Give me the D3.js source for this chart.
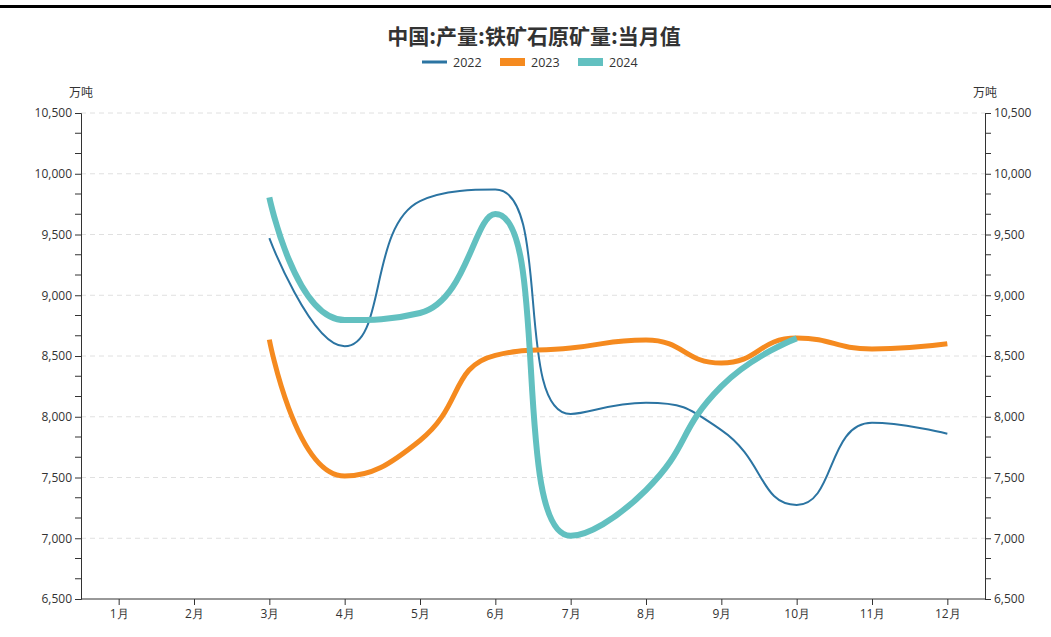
<!DOCTYPE html>
<html>
<head>
<meta charset="utf-8">
<script src="https://cdn.jsdelivr.net/npm/d3@7"></script>
<style>
  html, body { margin: 0; padding: 0; background: #fff; }
  svg { display: block; font-family: "Open Sans", "Noto Sans CJK SC", sans-serif; }
</style>
</head>
<body>
<svg id="chart" width="1051" height="637"></svg>
<script>
// Monthly iron ore raw output, 10k tonnes
const months = ["1月","2月","3月","4月","5月","6月","7月","8月","9月","10月","11月","12月"];
const years = ["2022","2023","2024"];
const values2022 = [null, null, 9470, 8580, 9775, 9870, 8023, 8115, 7890, 7274, 7950, 7860];
const values2023 = [null, null, 8635, 7512, 7805, 8505, 8566, 8632, 8442, 8648, 8558, 8600];
const values2024 = [null, null, 9805, 8796, 8854, 9669, 7020, 7397, 8250, 8645, null, null];
const yTicks = [6500, 7000, 7500, 8000, 8500, 9000, 9500, 10000, 10500];
const colors = ["#2b74a2", "#f58a1f", "#62c0c0"];
const widths = [2, 5, 6];

// Smoothed polyline: control points follow the neighbour direction,
// clamped so the curve never overshoots between adjacent points.
function smoothCurve(smooth) {
  return function (context) {
    let pts;
    return {
      areaStart() {}, areaEnd() {},
      lineStart() { pts = []; },
      point(x, y) { pts.push([+x, +y]); },
      lineEnd() {
        const n = pts.length;
        if (!n) return;
        context.moveTo(pts[0][0], pts[0][1]);
        let cpx0 = pts[0][0], cpy0 = pts[0][1];
        for (let i = 1; i < n; i++) {
          const [px, py] = pts[i - 1];
          const [x, y] = pts[i];
          let cpx1, cpy1, ncx = x, ncy = y;
          if (i === n - 1) {
            cpx1 = x; cpy1 = y;
          } else {
            const [nx, ny] = pts[i + 1];
            let vx = nx - px, vy = ny - py;
            const dx0 = x - px, dy0 = y - py, dx1 = nx - x, dy1 = ny - y;
            const lp = Math.hypot(dx0, dy0), ln = Math.hypot(dx1, dy1);
            const r = ln / (ln + lp);
            ncx = x + vx * smooth * r;
            ncy = y + vy * smooth * r;
            ncx = Math.min(ncx, Math.max(nx, x)); ncy = Math.min(ncy, Math.max(ny, y));
            ncx = Math.max(ncx, Math.min(nx, x)); ncy = Math.max(ncy, Math.min(ny, y));
            vx = ncx - x; vy = ncy - y;
            cpx1 = x - vx * lp / ln; cpy1 = y - vy * lp / ln;
            cpx1 = Math.min(cpx1, Math.max(px, x)); cpy1 = Math.min(cpy1, Math.max(py, y));
            cpx1 = Math.max(cpx1, Math.min(px, x)); cpy1 = Math.max(cpy1, Math.min(py, y));
            vx = x - cpx1; vy = y - cpy1;
            ncx = x + vx * ln / lp; ncy = y + vy * ln / lp;
          }
          context.bezierCurveTo(cpx0, cpy0, cpx1, cpy1, x, y);
          cpx0 = ncx; cpy0 = ncy;
        }
      }
    };
  };
}

const svg = d3.select("#chart");
const W = 1051, H = 637;
const m = { left: 81, right: 985, top: 113, bottom: 599 };

// top rule
svg.append("rect").attr("x", 0).attr("y", 5).attr("width", W).attr("height", 3).attr("fill", "#000");

// title
svg.append("text").attr("x", 534).attr("y", 44).attr("text-anchor", "middle")
  .attr("font-size", 21).attr("font-weight", "bold").attr("fill", "#333")
  .attr("font-family", "'Noto Sans CJK SC', sans-serif")
  .text("中国:产量:铁矿石原矿量:当月值");

const x = d3.scalePoint().domain(months).range([m.left, m.right]).padding(0.5);
const y = d3.scaleLinear().domain([6500, 10500]).range([m.bottom, m.top]);

// grid
svg.append("g").selectAll("line").data(yTicks.filter(t => t > 6500)).join("line")
  .attr("x1", m.left).attr("x2", m.right)
  .attr("y1", d => y(d)).attr("y2", d => y(d))
  .attr("stroke", "#e0e0e0").attr("stroke-dasharray", "5,4").attr("stroke-width", 1);

// minor ticks (thirds between labelled ticks)
const minor = [];
for (let i = 0; i < yTicks.length - 1; i++) {
  const step = (yTicks[i + 1] - yTicks[i]) / 3;
  minor.push(yTicks[i] + step, yTicks[i] + 2 * step);
}

const fmt = d3.format(",");
const leftAxis = d3.axisLeft(y).tickValues(yTicks).tickFormat(fmt).tickSize(6).tickPadding(3);
const rightAxis = d3.axisRight(y).tickValues(yTicks).tickFormat(fmt).tickSize(6).tickPadding(3);

function styleAxis(g) {
  g.select(".domain").attr("stroke", "#333");
  g.selectAll(".tick line").attr("stroke", "#333");
  g.selectAll(".tick text").attr("fill", "#333").attr("font-size", 12)
    .attr("font-family", "'Open Sans', sans-serif");
}

const gl = svg.append("g").attr("transform", `translate(${m.left},0)`).call(leftAxis).call(styleAxis);
gl.selectAll("line.minor").data(minor).join("line").attr("class", "minor")
  .attr("x1", -6).attr("x2", 0).attr("y1", d => y(d)).attr("y2", d => y(d)).attr("stroke", "#333");

const gr = svg.append("g").attr("transform", `translate(${m.right},0)`).call(rightAxis).call(styleAxis);
gr.selectAll("line.minor").data(minor).join("line").attr("class", "minor")
  .attr("x1", 0).attr("x2", 6).attr("y1", d => y(d)).attr("y2", d => y(d)).attr("stroke", "#333");

const gx = svg.append("g").attr("transform", `translate(0,${m.bottom})`)
  .call(d3.axisBottom(x).tickSize(6).tickPadding(4)).call(styleAxis);
gx.select(".domain").attr("d", `M${m.left},0H${m.right}`);

// unit labels
[m.left, m.right].forEach(px => {
  svg.append("text").attr("x", px).attr("y", 97).attr("text-anchor", "middle")
    .attr("font-size", 12).attr("fill", "#333")
    .attr("font-family", "'Noto Sans CJK SC', sans-serif").text("万吨");
});

// series lines
const series = [values2022, values2023, values2024];
const line = d3.line()
  .defined(d => d.v != null)
  .x(d => x(d.m)).y(d => y(d.v))
  .curve(smoothCurve(0.5));

series.forEach((vals, i) => {
  const pts = vals.map((v, j) => ({ m: months[j], v }));
  svg.append("path").datum(pts)
    .attr("d", line).attr("fill", "none")
    .attr("stroke", colors[i]).attr("stroke-width", widths[i])
    .attr("stroke-linejoin", "round");
});

// legend
const legendX = [422, 500, 578];
years.forEach((yr, i) => {
  const g = svg.append("g").attr("transform", `translate(${legendX[i]},62)`);
  if (i === 0) {
    g.append("rect").attr("x", 0).attr("y", -1.5).attr("width", 25).attr("height", 3).attr("fill", colors[i]);
  } else {
    g.append("rect").attr("x", 0).attr("y", -4).attr("width", 25).attr("height", 8).attr("fill", colors[i]);
  }
  g.append("text").attr("x", 31).attr("y", 4.5).attr("font-size", 12.5).attr("fill", "#333")
    .attr("font-family", "'Open Sans', sans-serif").text(yr);
});
</script>
</body>
</html>
